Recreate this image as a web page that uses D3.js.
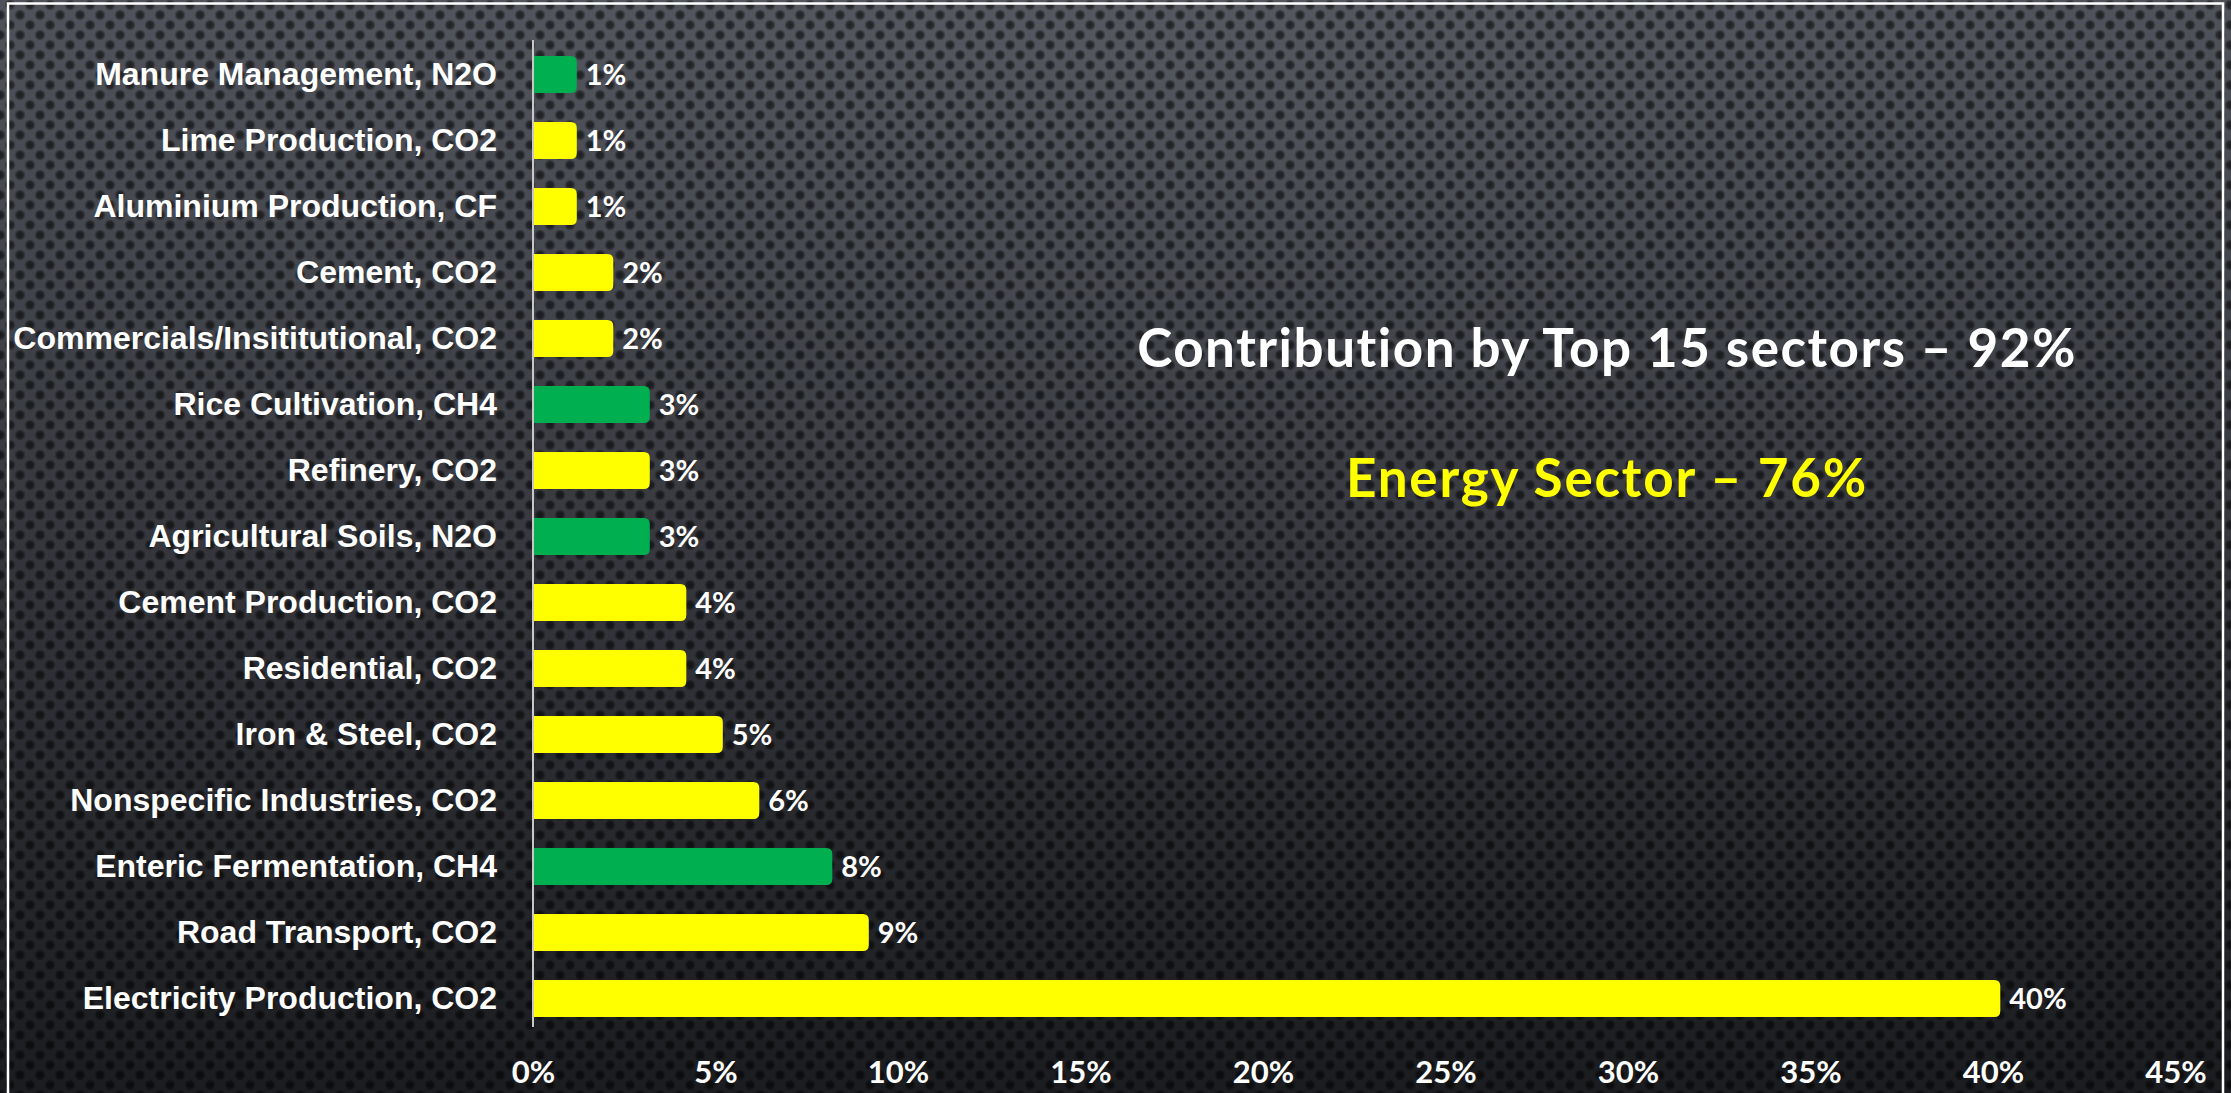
<!DOCTYPE html>
<html>
<head>
<meta charset="utf-8">
<script src="https://cdn.jsdelivr.net/npm/d3@7"></script>
<style>
  html, body { margin: 0; padding: 0; background: #1c1d20; overflow: hidden; }
  svg { display: block; }
</style>
</head>
<body>
<svg id="chart" width="2231" height="1093"></svg>
<script>
// ---- data (top to bottom) ----
const categories = [
  "Manure Management, N2O",
  "Lime Production, CO2",
  "Aluminium Production, CF",
  "Cement, CO2",
  "Commercials/Insititutional, CO2",
  "Rice Cultivation, CH4",
  "Refinery, CO2",
  "Agricultural Soils, N2O",
  "Cement Production, CO2",
  "Residential, CO2",
  "Iron & Steel, CO2",
  "Nonspecific Industries, CO2",
  "Enteric Fermentation, CH4",
  "Road Transport, CO2",
  "Electricity Production, CO2"
];
const shares = [0.012, 0.012, 0.012, 0.022, 0.022, 0.032, 0.032, 0.032, 0.042, 0.042, 0.052, 0.062, 0.082, 0.092, 0.402];
const groups = ["Agriculture", "Other", "Other", "Other", "Other", "Agriculture", "Other", "Agriculture",
                "Other", "Other", "Other", "Other", "Agriculture", "Other", "Other"];
const xTicks = [0, 0.05, 0.10, 0.15, 0.20, 0.25, 0.30, 0.35, 0.40, 0.45];
const headline = "Contribution by Top 15 sectors \u2013 92%";
const subline = "Energy Sector \u2013 76%";

const W = 2231, H = 1093;
const svg = d3.select("#chart");
const defs = svg.append("defs");

// background gradient
const bg = defs.append("linearGradient").attr("id", "bgGrad")
  .attr("x1", 0).attr("y1", 0).attr("x2", 0).attr("y2", 1);
bg.append("stop").attr("offset", "0%").attr("stop-color", "#4d5058");
bg.append("stop").attr("offset", "45%").attr("stop-color", "#36383e");
bg.append("stop").attr("offset", "100%").attr("stop-color", "#1b1c1f");

const glow = defs.append("radialGradient").attr("id", "glow")
  .attr("cx", "0.5").attr("cy", "0.05").attr("r", "0.7");
glow.append("stop").attr("offset", "0%").attr("stop-color", "#ffffff").attr("stop-opacity", 0.05);
glow.append("stop").attr("offset", "100%").attr("stop-color", "#ffffff").attr("stop-opacity", 0);

const dotGrad = defs.append("radialGradient").attr("id", "dotGrad");
dotGrad.append("stop").attr("offset", "0%").attr("stop-color", "#000").attr("stop-opacity", 0.62);
dotGrad.append("stop").attr("offset", "55%").attr("stop-color", "#000").attr("stop-opacity", 0.5);
dotGrad.append("stop").attr("offset", "100%").attr("stop-color", "#000").attr("stop-opacity", 0);

const pat = defs.append("pattern").attr("id", "dots")
  .attr("patternUnits", "userSpaceOnUse").attr("width", 20).attr("height", 20);
[[0, 15], [20, 15], [10, 5], [10, 25], [0, -5], [20, -5]].forEach(([cx, cy]) => {
  pat.append("circle").attr("cx", cx).attr("cy", cy).attr("r", 5.8).attr("fill", "url(#dotGrad)");
});

svg.append("rect").attr("width", W).attr("height", H).attr("fill", "url(#bgGrad)");
svg.append("rect").attr("width", W).attr("height", H).attr("fill", "url(#glow)");
svg.append("rect").attr("width", W).attr("height", H).attr("fill", "url(#dots)");

// border
svg.append("rect").attr("x", 8).attr("y", 3.5).attr("width", 2215).attr("height", 1200)
  .attr("fill", "none").attr("stroke", "#ffffff").attr("stroke-width", 2.5);

// scales
const x = d3.scaleLinear().domain([0, 0.45]).range([533, 2175.5]);
const y = d3.scaleBand().domain(categories).range([27, 1046]).padding(0.4394);
const color = d3.scaleOrdinal().domain(["Agriculture", "Other"]).range(["#00b050", "#ffff00"]);

// bars with rounded right end
const r = 6;
function barPath(x0, x1, y0, h) {
  return `M${x0},${y0}H${x1 - r}Q${x1},${y0} ${x1},${y0 + r}V${y0 + h - r}Q${x1},${y0 + h} ${x1 - r},${y0 + h}H${x0}Z`;
}
const rows = categories.map((c, i) => ({ c, v: shares[i], g: groups[i] }));

svg.append("g").selectAll("path").data(rows).join("path")
  .attr("d", d => barPath(x(0) + 1, x(d.v), y(d.c), y.bandwidth()))
  .attr("fill", d => color(d.g));

// value labels
svg.append("g").selectAll("text").data(rows).join("text")
  .attr("x", d => x(d.v) + 9)
  .attr("y", d => y(d.c) + y.bandwidth() / 2)
  .attr("dy", "0.36em")
  .attr("fill", "#ffffff")
  .style("font-family", "Lato, 'Open Sans', sans-serif")
  .style("font-weight", 700)
  .style("font-size", "29px")
  .text(d => d3.format(".0%")(d.v));

// y axis (category labels)
const yAxis = svg.append("g").attr("transform", `translate(${x(0)},0)`)
  .call(d3.axisLeft(y).tickSize(0).tickPadding(36));
yAxis.select(".domain").remove();
yAxis.selectAll("text")
  .attr("fill", "#ffffff")
  .style("font-family", "'Liberation Sans', Arial, sans-serif")
  .style("font-weight", 700)
  .style("font-size", "32px");

// vertical axis line
svg.append("line").attr("x1", x(0)).attr("x2", x(0)).attr("y1", 40).attr("y2", 1027)
  .attr("stroke", "#c8c8c8").attr("stroke-width", 2);

// x axis
const xAxis = svg.append("g").attr("transform", "translate(0,1050)")
  .call(d3.axisBottom(x).tickValues(xTicks).tickSize(0).tickPadding(0).tickFormat(d3.format(".0%")));
xAxis.select(".domain").remove();
xAxis.selectAll("text")
  .attr("y", 21.5).attr("dy", "0.36em")
  .attr("fill", "#ffffff")
  .style("font-family", "Lato, 'Open Sans', sans-serif")
  .style("font-weight", 700)
  .style("font-size", "31px");

// annotations
svg.append("text").attr("x", 1607).attr("y", 367).attr("text-anchor", "middle")
  .attr("fill", "#ffffff")
  .style("font-family", "Lato, 'Open Sans', sans-serif").style("font-weight", 700)
  .style("letter-spacing", "1.5px")
  .style("font-size", "53px").text(headline);
svg.append("text").attr("x", 1607).attr("y", 497).attr("text-anchor", "middle")
  .attr("fill", "#ffff00")
  .style("font-family", "Lato, 'Open Sans', sans-serif").style("font-weight", 700)
  .style("letter-spacing", "1.8px")
  .style("font-size", "53px").text(subline);
</script>
</body>
</html>
